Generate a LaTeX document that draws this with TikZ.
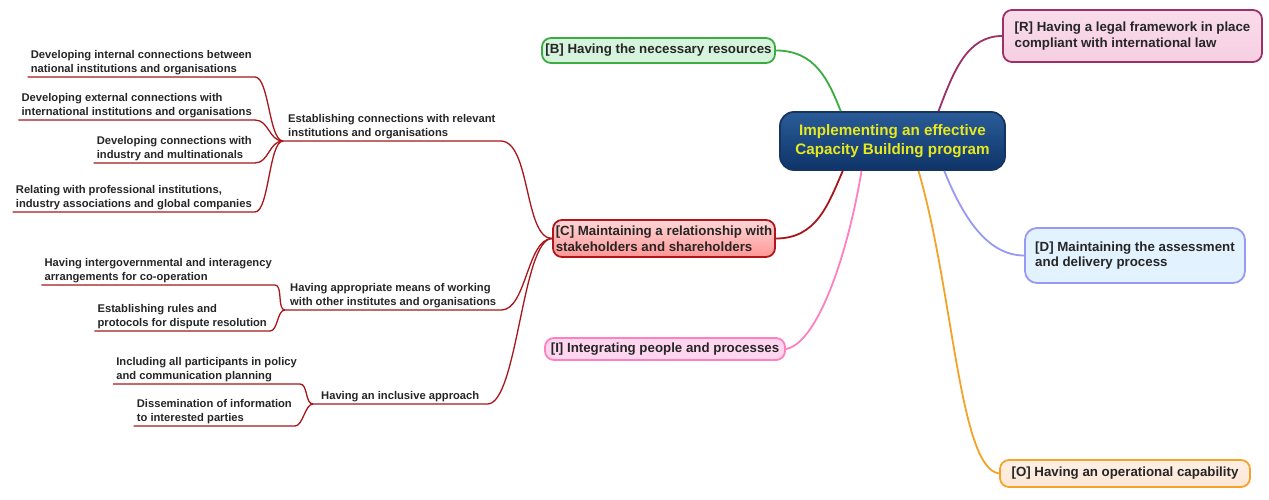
\documentclass[tikz,border=0pt]{standalone}
\usepackage{fontspec}
\setmainfont{Liberation Sans}
\definecolor{txt}{RGB}{38,38,38}
\definecolor{crim}{RGB}{168,22,26}
\definecolor{ctrB}{RGB}{22,52,98}
\definecolor{ctrTop}{RGB}{42,92,152}
\definecolor{ctrBot}{RGB}{14,52,104}
\definecolor{ctrT}{RGB}{232,232,30}
\definecolor{grnB}{RGB}{60,172,66}
\definecolor{grnF}{RGB}{214,243,222}
\definecolor{plumB}{RGB}{156,48,104}
\definecolor{plumF}{RGB}{246,206,226}
\definecolor{lavB}{RGB}{152,152,245}
\definecolor{lavF}{RGB}{226,242,255}
\definecolor{orgB}{RGB}{245,162,40}
\definecolor{orgF}{RGB}{253,230,212}
\definecolor{pnkB}{RGB}{255,128,192}
\definecolor{pnkF}{RGB}{255,214,240}
\definecolor{redB}{RGB}{178,22,26}
\definecolor{redTop}{RGB}{255,214,214}
\definecolor{redBot}{RGB}{255,150,150}
\begin{document}
\begin{tikzpicture}[x=1pt,y=-1pt,
  leaf/.style={font=\fontsize{11.2}{13.8}\selectfont\bfseries, text=txt, align=left, inner xsep=3pt, inner ysep=2pt},
  midleaf/.style={leaf, inner xsep=5pt},
  ul/.style={line width=1.3pt, draw=crim},
  mainbox/.style={line width=1.8pt, rounded corners=9pt, font=\fontsize{13.3}{15.5}\selectfont\bfseries, text=txt, align=left, inner sep=0pt},
  conn/.style={line width=1.8pt}]
\useasboundingbox[fill=white] (0,0) rectangle (1269,500);

% central and main nodes
\node[mainbox, draw=ctrB, top color=ctrTop, bottom color=ctrBot, rounded corners=14pt, minimum width=225pt, minimum height=58pt, text=ctrT, font=\fontsize{15.2}{19.5}\selectfont\bfseries, align=center] (ctr) at (892.5,141) {Implementing an effective\\Capacity Building program};
\node[mainbox, draw=grnB, fill=grnF, minimum width=233pt, minimum height=25pt] (B) at (658.5,50.5) {[B] Having the necessary resources};
\node[mainbox, draw=plumB, top color=plumF!70!white, bottom color=plumF, minimum width=259pt, minimum height=52pt] (R) at (1132.5,36) {[R] Having a legal framework in place\\compliant with international law};
\node[mainbox, draw=lavB, fill=lavF, rounded corners=12pt, minimum width=220pt, minimum height=55pt] (D) at (1135,255.5) {[D] Maintaining the assessment\\and delivery process};
\node[mainbox, draw=orgB, top color=orgF!60!white, bottom color=orgF, minimum width=250pt, minimum height=27pt] (O) at (1125,473.5) {[O] Having an operational capability};
\node[mainbox, draw=pnkB, fill=pnkF, minimum width=240pt, minimum height=22pt] (I) at (665,349) {[I] Integrating people and processes};
\node[mainbox, draw=redB, top color=redTop, bottom color=redBot, minimum width=222pt, minimum height=37pt] (C) at (664,238.5) {[C] Maintaining a relationship with\\stakeholders and shareholders};

% main connectors
\draw[conn, grnB] (B.east) .. controls +(40,0) and +(-12,-30) .. (ctr.150);
\draw[conn, plumB] (ctr.33) .. controls +(15,-40) and +(-35,0) .. (R.west);
\draw[conn, crim] (ctr.211) .. controls +(-15,35) and +(40,0) .. (C.east);
\draw[conn, pnkB] (ctr.224) .. controls +(-15,90) and +(30,-5) .. (I.east);
\draw[conn, orgB] (ctr.311) .. controls +(35,120) and +(-40,-5) .. (O.west);
\draw[conn, lavB] (ctr.330) .. controls +(20,50) and +(-35,0) .. (D.west);

% second level
\node[midleaf, anchor=south west] (e1) at (283,141) {Establishing connections with relevant\\institutions and organisations};
\node[midleaf, anchor=south west] (e2) at (285,310) {Having appropriate means of working\\with other institutes and organisations};
\node[midleaf, anchor=south west, inner xsep=8pt] (e3) at (313,404) {Having an inclusive approach};

\draw[ul] (e1.south west) -- (e1.south east) .. controls +(30,0) and +(-28,0) .. (C.west);
\draw[ul] (e2.south west) -- (e2.south east) .. controls +(25,0) and +(-25,0) .. (C.west);
\draw[ul] (e3.south west) -- (e3.south east) .. controls +(30,0) and +(-30,0) .. (C.west);

% leaves
\node[leaf, anchor=south east] (l1) at (255,77) {Developing internal connections between\\national institutions and organisations};
\node[leaf, anchor=south east] (l2) at (255,120) {Developing external connections with\\international institutions and organisations};
\node[leaf, anchor=south east] (l3) at (255,163) {Developing connections with\\industry and multinationals};
\node[leaf, anchor=south east] (l4) at (255,212) {Relating with professional institutions,\\industry associations and global companies};
\node[leaf, anchor=south east] (l5) at (275,285) {Having intergovernmental and interagency\\arrangements for co-operation};
\node[leaf, anchor=south east] (l6) at (270,331) {Establishing rules and\\protocols for dispute resolution};
\node[leaf, anchor=south east] (l7) at (300,384) {Including all participants in policy\\and communication planning};
\node[leaf, anchor=south east] (l8) at (295,426) {Dissemination of information\\to interested parties};

\foreach \l in {l1,l2,l3,l4}
  \draw[ul] (\l.south west) -- (\l.south east) .. controls +(14,0) and +(-14,0) .. (e1.south west);
\foreach \l in {l5,l6}
  \draw[ul] (\l.south west) -- (\l.south east) .. controls +(8,0) and +(-8,0) .. (e2.south west);
\foreach \l in {l7,l8}
  \draw[ul] (\l.south west) -- (\l.south east) .. controls +(8,0) and +(-8,0) .. (e3.south west);
\end{tikzpicture}
\end{document}
